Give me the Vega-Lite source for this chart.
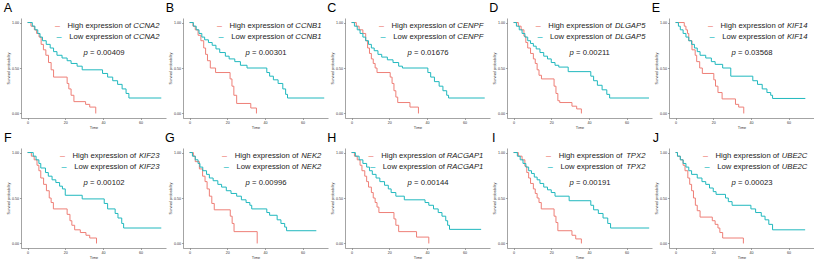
{
"$schema":"https://vega.github.io/schema/vega-lite/v6.json",
"background":"white",
"padding":{"left":3,"top":2,"right":0,"bottom":0},
"bounds":"flush",
"spacing":{"row":30,"column":17},
"columns":5,
"data":{"values":[
{"panel":"A","group":"High","time":0,"surv":1},{"panel":"A","group":"High","time":1.8,"surv":0.96},{"panel":"A","group":"High","time":3.6,"surv":0.92},{"panel":"A","group":"High","time":4.8,"surv":0.88},{"panel":"A","group":"High","time":6.1,"surv":0.84},{"panel":"A","group":"High","time":7.2,"surv":0.76},{"panel":"A","group":"High","time":8.4,"surv":0.7},{"panel":"A","group":"High","time":9.7,"surv":0.64},{"panel":"A","group":"High","time":11.1,"surv":0.56},{"panel":"A","group":"High","time":12.5,"surv":0.48},{"panel":"A","group":"High","time":13.8,"surv":0.4},{"panel":"A","group":"High","time":21,"surv":0.33},{"panel":"A","group":"High","time":21.9,"surv":0.27},{"panel":"A","group":"High","time":23.1,"surv":0.2},{"panel":"A","group":"High","time":24.6,"surv":0.13},{"panel":"A","group":"High","time":30.8,"surv":0.1},{"panel":"A","group":"High","time":33,"surv":0.07},{"panel":"A","group":"High","time":36.2,"surv":0},
{"panel":"A","group":"Low","time":0,"surv":1},{"panel":"A","group":"Low","time":2.5,"surv":0.96},{"panel":"A","group":"Low","time":3.9,"surv":0.92},{"panel":"A","group":"Low","time":5.4,"surv":0.88},{"panel":"A","group":"Low","time":6.6,"surv":0.84},{"panel":"A","group":"Low","time":7.9,"surv":0.8},{"panel":"A","group":"Low","time":9.9,"surv":0.76},{"panel":"A","group":"Low","time":12,"surv":0.72},{"panel":"A","group":"Low","time":13.8,"surv":0.68},{"panel":"A","group":"Low","time":15.6,"surv":0.64},{"panel":"A","group":"Low","time":18.3,"surv":0.61},{"panel":"A","group":"Low","time":21,"surv":0.58},{"panel":"A","group":"Low","time":23.1,"surv":0.55},{"panel":"A","group":"Low","time":26.3,"surv":0.52},{"panel":"A","group":"Low","time":29,"surv":0.48},{"panel":"A","group":"Low","time":39.8,"surv":0.44},{"panel":"A","group":"Low","time":42.5,"surv":0.4},{"panel":"A","group":"Low","time":45.2,"surv":0.36},{"panel":"A","group":"Low","time":47.8,"surv":0.32},{"panel":"A","group":"Low","time":50.2,"surv":0.27},{"panel":"A","group":"Low","time":52.3,"surv":0.22},{"panel":"A","group":"Low","time":53.8,"surv":0.17},{"panel":"A","group":"Low","time":71,"surv":0.17},
{"panel":"B","group":"High","time":0,"surv":1},{"panel":"B","group":"High","time":1.8,"surv":0.96},{"panel":"B","group":"High","time":3,"surv":0.92},{"panel":"B","group":"High","time":4.5,"surv":0.86},{"panel":"B","group":"High","time":6,"surv":0.8},{"panel":"B","group":"High","time":7.5,"surv":0.72},{"panel":"B","group":"High","time":8.5,"surv":0.65},{"panel":"B","group":"High","time":9.5,"surv":0.58},{"panel":"B","group":"High","time":11,"surv":0.5},{"panel":"B","group":"High","time":13.8,"surv":0.45},{"panel":"B","group":"High","time":21.5,"surv":0.38},{"panel":"B","group":"High","time":22.5,"surv":0.3},{"panel":"B","group":"High","time":23.5,"surv":0.2},{"panel":"B","group":"High","time":25,"surv":0.11},{"panel":"B","group":"High","time":32.5,"surv":0.06},{"panel":"B","group":"High","time":35.5,"surv":0},
{"panel":"B","group":"Low","time":0,"surv":1},{"panel":"B","group":"Low","time":2,"surv":0.96},{"panel":"B","group":"Low","time":3.5,"surv":0.92},{"panel":"B","group":"Low","time":5,"surv":0.88},{"panel":"B","group":"Low","time":6.5,"surv":0.84},{"panel":"B","group":"Low","time":8,"surv":0.81},{"panel":"B","group":"Low","time":10,"surv":0.78},{"panel":"B","group":"Low","time":12,"surv":0.75},{"panel":"B","group":"Low","time":14,"surv":0.71},{"panel":"B","group":"Low","time":16,"surv":0.67},{"panel":"B","group":"Low","time":19,"surv":0.63},{"panel":"B","group":"Low","time":21,"surv":0.6},{"panel":"B","group":"Low","time":24,"surv":0.57},{"panel":"B","group":"Low","time":27,"surv":0.53},{"panel":"B","group":"Low","time":30.5,"surv":0.5},{"panel":"B","group":"Low","time":41,"surv":0.45},{"panel":"B","group":"Low","time":42.5,"surv":0.41},{"panel":"B","group":"Low","time":44.5,"surv":0.37},{"panel":"B","group":"Low","time":47,"surv":0.33},{"panel":"B","group":"Low","time":49.5,"surv":0.27},{"panel":"B","group":"Low","time":51,"surv":0.21},{"panel":"B","group":"Low","time":52,"surv":0.17},{"panel":"B","group":"Low","time":71.5,"surv":0.17},
{"panel":"C","group":"High","time":0,"surv":1},{"panel":"C","group":"High","time":2.5,"surv":0.96},{"panel":"C","group":"High","time":4,"surv":0.92},{"panel":"C","group":"High","time":6,"surv":0.88},{"panel":"C","group":"High","time":7.5,"surv":0.8},{"panel":"C","group":"High","time":8.5,"surv":0.72},{"panel":"C","group":"High","time":9.5,"surv":0.66},{"panel":"C","group":"High","time":10.5,"surv":0.6},{"panel":"C","group":"High","time":11.5,"surv":0.55},{"panel":"C","group":"High","time":12.5,"surv":0.5},{"panel":"C","group":"High","time":13.5,"surv":0.45},{"panel":"C","group":"High","time":20.5,"surv":0.4},{"panel":"C","group":"High","time":21.5,"surv":0.33},{"panel":"C","group":"High","time":22.5,"surv":0.25},{"panel":"C","group":"High","time":23.5,"surv":0.18},{"panel":"C","group":"High","time":24.5,"surv":0.12},{"panel":"C","group":"High","time":31,"surv":0.07},{"panel":"C","group":"High","time":35.5,"surv":0},
{"panel":"C","group":"Low","time":0,"surv":1},{"panel":"C","group":"Low","time":1.5,"surv":0.96},{"panel":"C","group":"Low","time":3,"surv":0.92},{"panel":"C","group":"Low","time":4.5,"surv":0.88},{"panel":"C","group":"Low","time":6,"surv":0.84},{"panel":"C","group":"Low","time":7.5,"surv":0.8},{"panel":"C","group":"Low","time":9,"surv":0.76},{"panel":"C","group":"Low","time":10.5,"surv":0.72},{"panel":"C","group":"Low","time":12,"surv":0.69},{"panel":"C","group":"Low","time":14,"surv":0.65},{"panel":"C","group":"Low","time":16,"surv":0.62},{"panel":"C","group":"Low","time":19,"surv":0.59},{"panel":"C","group":"Low","time":22,"surv":0.56},{"panel":"C","group":"Low","time":25,"surv":0.52},{"panel":"C","group":"Low","time":27,"surv":0.5},{"panel":"C","group":"Low","time":40.5,"surv":0.45},{"panel":"C","group":"Low","time":42,"surv":0.4},{"panel":"C","group":"Low","time":44,"surv":0.35},{"panel":"C","group":"Low","time":46.5,"surv":0.3},{"panel":"C","group":"Low","time":48.5,"surv":0.25},{"panel":"C","group":"Low","time":50.5,"surv":0.2},{"panel":"C","group":"Low","time":51.5,"surv":0.17},{"panel":"C","group":"Low","time":70.7,"surv":0.17},
{"panel":"D","group":"High","time":0,"surv":1},{"panel":"D","group":"High","time":2.5,"surv":0.96},{"panel":"D","group":"High","time":4,"surv":0.92},{"panel":"D","group":"High","time":5.5,"surv":0.85},{"panel":"D","group":"High","time":6.5,"surv":0.78},{"panel":"D","group":"High","time":7.5,"surv":0.72},{"panel":"D","group":"High","time":9,"surv":0.66},{"panel":"D","group":"High","time":10.5,"surv":0.6},{"panel":"D","group":"High","time":11.5,"surv":0.55},{"panel":"D","group":"High","time":12.5,"surv":0.48},{"panel":"D","group":"High","time":13.5,"surv":0.42},{"panel":"D","group":"High","time":14.8,"surv":0.38},{"panel":"D","group":"High","time":21.5,"surv":0.3},{"panel":"D","group":"High","time":22.5,"surv":0.22},{"panel":"D","group":"High","time":23.5,"surv":0.14},{"panel":"D","group":"High","time":24.5,"surv":0.12},{"panel":"D","group":"High","time":31,"surv":0.08},{"panel":"D","group":"High","time":33.5,"surv":0.05},{"panel":"D","group":"High","time":36,"surv":0},
{"panel":"D","group":"Low","time":0,"surv":1},{"panel":"D","group":"Low","time":1.5,"surv":0.96},{"panel":"D","group":"Low","time":3,"surv":0.92},{"panel":"D","group":"Low","time":4.5,"surv":0.88},{"panel":"D","group":"Low","time":6,"surv":0.84},{"panel":"D","group":"Low","time":7.5,"surv":0.8},{"panel":"D","group":"Low","time":9,"surv":0.77},{"panel":"D","group":"Low","time":10.5,"surv":0.74},{"panel":"D","group":"Low","time":12,"surv":0.71},{"panel":"D","group":"Low","time":14,"surv":0.67},{"panel":"D","group":"Low","time":16,"surv":0.63},{"panel":"D","group":"Low","time":18,"surv":0.6},{"panel":"D","group":"Low","time":20,"surv":0.56},{"panel":"D","group":"Low","time":22,"surv":0.53},{"panel":"D","group":"Low","time":24,"surv":0.51},{"panel":"D","group":"Low","time":29,"surv":0.46},{"panel":"D","group":"Low","time":41,"surv":0.41},{"panel":"D","group":"Low","time":42.5,"surv":0.36},{"panel":"D","group":"Low","time":44.5,"surv":0.31},{"panel":"D","group":"Low","time":47,"surv":0.26},{"panel":"D","group":"Low","time":49.5,"surv":0.21},{"panel":"D","group":"Low","time":51,"surv":0.17},{"panel":"D","group":"Low","time":71.9,"surv":0.17},
{"panel":"E","group":"High","time":0,"surv":1},{"panel":"E","group":"High","time":4.6,"surv":0.96},{"panel":"E","group":"High","time":5.5,"surv":0.92},{"panel":"E","group":"High","time":6.3,"surv":0.88},{"panel":"E","group":"High","time":7,"surv":0.8},{"panel":"E","group":"High","time":8.7,"surv":0.7},{"panel":"E","group":"High","time":10.4,"surv":0.64},{"panel":"E","group":"High","time":11.2,"surv":0.57},{"panel":"E","group":"High","time":12.8,"surv":0.5},{"panel":"E","group":"High","time":14.2,"surv":0.44},{"panel":"E","group":"High","time":20.3,"surv":0.37},{"panel":"E","group":"High","time":21.2,"surv":0.3},{"panel":"E","group":"High","time":22.5,"surv":0.23},{"panel":"E","group":"High","time":24.7,"surv":0.16},{"panel":"E","group":"High","time":31.8,"surv":0.1},{"panel":"E","group":"High","time":33.5,"surv":0.07},{"panel":"E","group":"High","time":36.2,"surv":0},
{"panel":"E","group":"Low","time":0,"surv":1},{"panel":"E","group":"Low","time":1.5,"surv":0.96},{"panel":"E","group":"Low","time":2.5,"surv":0.92},{"panel":"E","group":"Low","time":4,"surv":0.88},{"panel":"E","group":"Low","time":5.5,"surv":0.84},{"panel":"E","group":"Low","time":7,"surv":0.8},{"panel":"E","group":"Low","time":8.5,"surv":0.76},{"panel":"E","group":"Low","time":10,"surv":0.72},{"panel":"E","group":"Low","time":11.5,"surv":0.68},{"panel":"E","group":"Low","time":13,"surv":0.64},{"panel":"E","group":"Low","time":16,"surv":0.61},{"panel":"E","group":"Low","time":19,"surv":0.57},{"panel":"E","group":"Low","time":21,"surv":0.54},{"panel":"E","group":"Low","time":25,"surv":0.5},{"panel":"E","group":"Low","time":29.3,"surv":0.41},{"panel":"E","group":"Low","time":41,"surv":0.36},{"panel":"E","group":"Low","time":43.5,"surv":0.32},{"panel":"E","group":"Low","time":46,"surv":0.27},{"panel":"E","group":"Low","time":48.5,"surv":0.23},{"panel":"E","group":"Low","time":50.5,"surv":0.2},{"panel":"E","group":"Low","time":51.5,"surv":0.165},{"panel":"E","group":"Low","time":68.9,"surv":0.165},
{"panel":"F","group":"High","time":0,"surv":1},{"panel":"F","group":"High","time":2,"surv":0.96},{"panel":"F","group":"High","time":3.5,"surv":0.92},{"panel":"F","group":"High","time":5,"surv":0.86},{"panel":"F","group":"High","time":6,"surv":0.8},{"panel":"F","group":"High","time":7,"surv":0.72},{"panel":"F","group":"High","time":8.5,"surv":0.65},{"panel":"F","group":"High","time":10,"surv":0.58},{"panel":"F","group":"High","time":11.5,"surv":0.5},{"panel":"F","group":"High","time":12.5,"surv":0.45},{"panel":"F","group":"High","time":13.7,"surv":0.38},{"panel":"F","group":"High","time":21,"surv":0.32},{"panel":"F","group":"High","time":22.5,"surv":0.25},{"panel":"F","group":"High","time":23.5,"surv":0.2},{"panel":"F","group":"High","time":25,"surv":0.15},{"panel":"F","group":"High","time":28,"surv":0.12},{"panel":"F","group":"High","time":31,"surv":0.09},{"panel":"F","group":"High","time":33,"surv":0.06},{"panel":"F","group":"High","time":36.6,"surv":0},
{"panel":"F","group":"Low","time":0,"surv":1},{"panel":"F","group":"Low","time":3,"surv":0.96},{"panel":"F","group":"Low","time":4.5,"surv":0.92},{"panel":"F","group":"Low","time":6,"surv":0.88},{"panel":"F","group":"Low","time":7,"surv":0.83},{"panel":"F","group":"Low","time":9.5,"surv":0.78},{"panel":"F","group":"Low","time":11,"surv":0.74},{"panel":"F","group":"Low","time":13,"surv":0.7},{"panel":"F","group":"Low","time":15,"surv":0.67},{"panel":"F","group":"Low","time":17,"surv":0.63},{"panel":"F","group":"Low","time":18.5,"surv":0.6},{"panel":"F","group":"Low","time":20,"surv":0.53},{"panel":"F","group":"Low","time":29,"surv":0.49},{"panel":"F","group":"Low","time":40.7,"surv":0.44},{"panel":"F","group":"Low","time":42.5,"surv":0.38},{"panel":"F","group":"Low","time":46.5,"surv":0.33},{"panel":"F","group":"Low","time":48,"surv":0.28},{"panel":"F","group":"Low","time":50,"surv":0.22},{"panel":"F","group":"Low","time":51,"surv":0.17},{"panel":"F","group":"Low","time":71,"surv":0.17},
{"panel":"G","group":"High","time":0,"surv":1},{"panel":"G","group":"High","time":2,"surv":0.96},{"panel":"G","group":"High","time":3,"surv":0.9},{"panel":"G","group":"High","time":5.2,"surv":0.82},{"panel":"G","group":"High","time":6.9,"surv":0.74},{"panel":"G","group":"High","time":8.2,"surv":0.68},{"panel":"G","group":"High","time":9.3,"surv":0.6},{"panel":"G","group":"High","time":10.5,"surv":0.52},{"panel":"G","group":"High","time":11.8,"surv":0.44},{"panel":"G","group":"High","time":13.1,"surv":0.37},{"panel":"G","group":"High","time":21.6,"surv":0.3},{"panel":"G","group":"High","time":22.6,"surv":0.22},{"panel":"G","group":"High","time":23.6,"surv":0.13},{"panel":"G","group":"High","time":35.9,"surv":0},
{"panel":"G","group":"Low","time":0,"surv":1},{"panel":"G","group":"Low","time":1.5,"surv":0.96},{"panel":"G","group":"Low","time":3,"surv":0.92},{"panel":"G","group":"Low","time":4.5,"surv":0.88},{"panel":"G","group":"Low","time":5.5,"surv":0.84},{"panel":"G","group":"Low","time":7,"surv":0.8},{"panel":"G","group":"Low","time":9,"surv":0.76},{"panel":"G","group":"Low","time":10.5,"surv":0.72},{"panel":"G","group":"Low","time":12.5,"surv":0.69},{"panel":"G","group":"Low","time":15,"surv":0.65},{"panel":"G","group":"Low","time":17,"surv":0.62},{"panel":"G","group":"Low","time":19.5,"surv":0.58},{"panel":"G","group":"Low","time":22,"surv":0.55},{"panel":"G","group":"Low","time":25,"surv":0.52},{"panel":"G","group":"Low","time":27.5,"surv":0.48},{"panel":"G","group":"Low","time":30,"surv":0.45},{"panel":"G","group":"Low","time":32,"surv":0.42},{"panel":"G","group":"Low","time":33,"surv":0.38},{"panel":"G","group":"Low","time":41,"surv":0.34},{"panel":"G","group":"Low","time":42.5,"surv":0.31},{"panel":"G","group":"Low","time":46.5,"surv":0.26},{"panel":"G","group":"Low","time":48.5,"surv":0.22},{"panel":"G","group":"Low","time":50.5,"surv":0.18},{"panel":"G","group":"Low","time":51.5,"surv":0.14},{"panel":"G","group":"Low","time":67.3,"surv":0.14},
{"panel":"H","group":"High","time":0,"surv":1},{"panel":"H","group":"High","time":1.5,"surv":0.96},{"panel":"H","group":"High","time":3,"surv":0.92},{"panel":"H","group":"High","time":4.5,"surv":0.86},{"panel":"H","group":"High","time":5.5,"surv":0.8},{"panel":"H","group":"High","time":7,"surv":0.74},{"panel":"H","group":"High","time":8,"surv":0.68},{"panel":"H","group":"High","time":9,"surv":0.62},{"panel":"H","group":"High","time":10.5,"surv":0.56},{"panel":"H","group":"High","time":11.5,"surv":0.5},{"panel":"H","group":"High","time":12.5,"surv":0.45},{"panel":"H","group":"High","time":13.5,"surv":0.4},{"panel":"H","group":"High","time":14.5,"surv":0.34},{"panel":"H","group":"High","time":22.5,"surv":0.27},{"panel":"H","group":"High","time":23.5,"surv":0.2},{"panel":"H","group":"High","time":25,"surv":0.13},{"panel":"H","group":"High","time":34.5,"surv":0.07},{"panel":"H","group":"High","time":41,"surv":0},
{"panel":"H","group":"Low","time":0,"surv":1},{"panel":"H","group":"Low","time":2,"surv":0.96},{"panel":"H","group":"Low","time":4,"surv":0.92},{"panel":"H","group":"Low","time":6,"surv":0.88},{"panel":"H","group":"Low","time":8,"surv":0.84},{"panel":"H","group":"Low","time":9.5,"surv":0.8},{"panel":"H","group":"Low","time":11,"surv":0.76},{"panel":"H","group":"Low","time":13,"surv":0.72},{"panel":"H","group":"Low","time":15,"surv":0.68},{"panel":"H","group":"Low","time":17.5,"surv":0.64},{"panel":"H","group":"Low","time":19.5,"surv":0.6},{"panel":"H","group":"Low","time":21,"surv":0.56},{"panel":"H","group":"Low","time":23.5,"surv":0.52},{"panel":"H","group":"Low","time":28,"surv":0.48},{"panel":"H","group":"Low","time":39,"surv":0.45},{"panel":"H","group":"Low","time":41,"surv":0.42},{"panel":"H","group":"Low","time":43.5,"surv":0.38},{"panel":"H","group":"Low","time":46,"surv":0.34},{"panel":"H","group":"Low","time":48,"surv":0.3},{"panel":"H","group":"Low","time":50,"surv":0.25},{"panel":"H","group":"Low","time":51,"surv":0.2},{"panel":"H","group":"Low","time":52,"surv":0.155},{"panel":"H","group":"Low","time":68.8,"surv":0.155},
{"panel":"I","group":"High","time":0,"surv":1},{"panel":"I","group":"High","time":2.5,"surv":0.96},{"panel":"I","group":"High","time":4.5,"surv":0.92},{"panel":"I","group":"High","time":6,"surv":0.85},{"panel":"I","group":"High","time":7,"surv":0.78},{"panel":"I","group":"High","time":8,"surv":0.72},{"panel":"I","group":"High","time":9,"surv":0.66},{"panel":"I","group":"High","time":10.5,"surv":0.6},{"panel":"I","group":"High","time":11.5,"surv":0.55},{"panel":"I","group":"High","time":12.5,"surv":0.5},{"panel":"I","group":"High","time":13.5,"surv":0.45},{"panel":"I","group":"High","time":14.7,"surv":0.38},{"panel":"I","group":"High","time":21.5,"surv":0.3},{"panel":"I","group":"High","time":22.5,"surv":0.23},{"panel":"I","group":"High","time":23.5,"surv":0.14},{"panel":"I","group":"High","time":31,"surv":0.09},{"panel":"I","group":"High","time":33,"surv":0.05},{"panel":"I","group":"High","time":36,"surv":0},
{"panel":"I","group":"Low","time":0,"surv":1},{"panel":"I","group":"Low","time":2,"surv":0.96},{"panel":"I","group":"Low","time":3.5,"surv":0.92},{"panel":"I","group":"Low","time":5,"surv":0.88},{"panel":"I","group":"Low","time":6.5,"surv":0.84},{"panel":"I","group":"Low","time":8,"surv":0.8},{"panel":"I","group":"Low","time":9.5,"surv":0.77},{"panel":"I","group":"Low","time":11,"surv":0.73},{"panel":"I","group":"Low","time":12.5,"surv":0.7},{"panel":"I","group":"Low","time":14,"surv":0.66},{"panel":"I","group":"Low","time":16,"surv":0.62},{"panel":"I","group":"Low","time":18,"surv":0.59},{"panel":"I","group":"Low","time":20,"surv":0.56},{"panel":"I","group":"Low","time":22,"surv":0.52},{"panel":"I","group":"Low","time":29.5,"surv":0.47},{"panel":"I","group":"Low","time":41,"surv":0.42},{"panel":"I","group":"Low","time":42.5,"surv":0.37},{"panel":"I","group":"Low","time":45,"surv":0.33},{"panel":"I","group":"Low","time":47.5,"surv":0.28},{"panel":"I","group":"Low","time":50,"surv":0.22},{"panel":"I","group":"Low","time":51.5,"surv":0.17},{"panel":"I","group":"Low","time":72,"surv":0.17},
{"panel":"J","group":"High","time":0,"surv":1},{"panel":"J","group":"High","time":1,"surv":0.96},{"panel":"J","group":"High","time":2.5,"surv":0.92},{"panel":"J","group":"High","time":4,"surv":0.86},{"panel":"J","group":"High","time":5,"surv":0.8},{"panel":"J","group":"High","time":6.5,"surv":0.72},{"panel":"J","group":"High","time":7.5,"surv":0.65},{"panel":"J","group":"High","time":8.5,"surv":0.58},{"panel":"J","group":"High","time":9.5,"surv":0.5},{"panel":"J","group":"High","time":10.5,"surv":0.42},{"panel":"J","group":"High","time":11.5,"surv":0.36},{"panel":"J","group":"High","time":13,"surv":0.29},{"panel":"J","group":"High","time":19.5,"surv":0.25},{"panel":"J","group":"High","time":21,"surv":0.21},{"panel":"J","group":"High","time":22.5,"surv":0.17},{"panel":"J","group":"High","time":23.5,"surv":0.12},{"panel":"J","group":"High","time":25,"surv":0.06},{"panel":"J","group":"High","time":36,"surv":0},
{"panel":"J","group":"Low","time":0,"surv":1},{"panel":"J","group":"Low","time":1,"surv":0.96},{"panel":"J","group":"Low","time":2.5,"surv":0.92},{"panel":"J","group":"Low","time":4,"surv":0.88},{"panel":"J","group":"Low","time":5.5,"surv":0.84},{"panel":"J","group":"Low","time":7,"surv":0.8},{"panel":"J","group":"Low","time":8.5,"surv":0.76},{"panel":"J","group":"Low","time":11.5,"surv":0.72},{"panel":"J","group":"Low","time":14,"surv":0.68},{"panel":"J","group":"Low","time":16,"surv":0.65},{"panel":"J","group":"Low","time":18,"surv":0.61},{"panel":"J","group":"Low","time":20,"surv":0.57},{"panel":"J","group":"Low","time":21.5,"surv":0.54},{"panel":"J","group":"Low","time":26.5,"surv":0.5},{"panel":"J","group":"Low","time":28,"surv":0.46},{"panel":"J","group":"Low","time":30,"surv":0.42},{"panel":"J","group":"Low","time":40,"surv":0.38},{"panel":"J","group":"Low","time":42.5,"surv":0.34},{"panel":"J","group":"Low","time":45.5,"surv":0.3},{"panel":"J","group":"Low","time":47.5,"surv":0.26},{"panel":"J","group":"Low","time":49.5,"surv":0.21},{"panel":"J","group":"Low","time":51.5,"surv":0.15},{"panel":"J","group":"Low","time":68.8,"surv":0.15},
{"panel":"A","group":"High","pre":"High expression of","gene":"CCNA2"},{"panel":"A","group":"Low","pre":"Low expression of","gene":"CCNA2"},{"panel":"A","pv":"= 0.00409"},
{"panel":"B","group":"High","pre":"High expression of","gene":"CCNB1"},{"panel":"B","group":"Low","pre":"Low expression of","gene":"CCNB1"},{"panel":"B","pv":"= 0.00301"},
{"panel":"C","group":"High","pre":"High expression of","gene":"CENPF"},{"panel":"C","group":"Low","pre":"Low expression of","gene":"CENPF"},{"panel":"C","pv":"= 0.01676"},
{"panel":"D","group":"High","pre":"High expression of","gene":"DLGAP5"},{"panel":"D","group":"Low","pre":"Low expression of","gene":"DLGAP5"},{"panel":"D","pv":"= 0.00211"},
{"panel":"E","group":"High","pre":"High expression of","gene":"KIF14"},{"panel":"E","group":"Low","pre":"Low expression of","gene":"KIF14"},{"panel":"E","pv":"= 0.03568"},
{"panel":"F","group":"High","pre":"High expression of","gene":"KIF23"},{"panel":"F","group":"Low","pre":"Low expression of","gene":"KIF23"},{"panel":"F","pv":"= 0.00102"},
{"panel":"G","group":"High","pre":"High expression of","gene":"NEK2"},{"panel":"G","group":"Low","pre":"Low expression of","gene":"NEK2"},{"panel":"G","pv":"= 0.00996"},
{"panel":"H","group":"High","pre":"High expression of","gene":"RACGAP1"},{"panel":"H","group":"Low","pre":"Low expression of","gene":"RACGAP1"},{"panel":"H","pv":"= 0.00144"},
{"panel":"I","group":"High","pre":"High expression of","gene":"TPX2"},{"panel":"I","group":"Low","pre":"Low expression of","gene":"TPX2"},{"panel":"I","pv":"= 0.00191"},
{"panel":"J","group":"High","pre":"High expression of","gene":"UBE2C"},{"panel":"J","group":"Low","pre":"Low expression of","gene":"UBE2C"},{"panel":"J","pv":"= 0.00023"}
]},
"facet":{"field":"panel","type":"nominal","title":null,"header":{"labels":false,"title":null,"labelExpr":"''","labelFontSize":0,"labelPadding":0}},
"resolve":{"axis":{"x":"independent","y":"independent"}},
"spec":{
"width":145,"height":100,
"layer":[
{"transform":[{"filter":"isValid(datum.surv)"}],
 "mark":{"type":"line","interpolate":"step-after","strokeWidth":1},
 "encoding":{
  "x":{"field":"time","type":"quantitative","scale":{"domain":[-3.5,73.5],"nice":false,"zero":false},"axis":{"title":"Time","values":[0,20,40,60],"format":"d"}},
  "y":{"field":"surv","type":"quantitative","scale":{"domain":[-0.05,1.05],"nice":false,"zero":false},"axis":{"title":"Survival probability","values":[0,0.25,0.5,0.75,1],"format":".2f"}},
  "color":{"field":"group","type":"nominal","scale":{"domain":["High","Low"],"range":["#EE7F77","#20B8BE"]},"legend":null}}},
{"transform":[{"filter":"isValid(datum.gene)"}],
 "mark":{"type":"text","text":"–","align":"center","baseline":"middle","fontSize":9,
   "dx":{"expr":"-(5.2*length(datum.gene) - (indexof(datum.gene,'I')>=0?5:0) + 2.2 + (datum.group=='High'?63.8:62.1) + 10)"},
   "dy":{"expr":"datum.group=='High'?0:11"}},
 "encoding":{"x":{"datum":70},"y":{"datum":0.96},"color":{"field":"group","type":"nominal","legend":null}}},
{"transform":[{"filter":"isValid(datum.gene)"}],
 "mark":{"type":"text","align":"right","baseline":"middle","fontSize":7.7,"color":"#222",
   "dx":{"expr":"-(5.2*length(datum.gene) - (indexof(datum.gene,'I')>=0?5:0) + 2.2)"},
   "dy":{"expr":"datum.group=='High'?0:11"}},
 "encoding":{"x":{"datum":70},"y":{"datum":0.96},"text":{"field":"pre"}}},
{"transform":[{"filter":"isValid(datum.gene)"}],
 "mark":{"type":"text","align":"right","baseline":"middle","fontSize":7.7,"fontStyle":"italic","color":"#222",
   "dy":{"expr":"datum.group=='High'?0:11"}},
 "encoding":{"x":{"datum":70},"y":{"datum":0.96},"text":{"field":"gene"}}},
{"transform":[{"filter":"isValid(datum.pv)"}],
 "mark":{"type":"text","align":"right","baseline":"middle","fontSize":7.7,"fontStyle":"italic","color":"#222","text":"p"},
 "encoding":{"x":{"datum":32},"y":{"datum":0.67}}},
{"transform":[{"filter":"isValid(datum.pv)"}],
 "mark":{"type":"text","align":"left","baseline":"middle","fontSize":7.7,"color":"#222","dx":2.2},
 "encoding":{"x":{"datum":32},"y":{"datum":0.67},"text":{"field":"pv"}}},
{"transform":[{"filter":"isValid(datum.pv)"}],
 "mark":{"type":"text","align":"center","baseline":"middle","fontSize":12.5,"color":"black"},
 "encoding":{"x":{"datum":-10.5},"y":{"datum":1.16},"text":{"field":"panel"}}}
]},
"config":{"view":{"stroke":null},"font":"Liberation Sans",
 "header":{"labels":false,"title":null},
 "headerFacet":{"labels":false,"title":null},
 "axis":{"grid":false,"domainColor":"#666","domainWidth":0.6,"tickColor":"#666","tickWidth":0.6,"tickSize":1.5,"labelFontSize":3.6,"labelColor":"#333","labelPadding":1,"titleFontSize":3.8,"titleFontWeight":"normal","titleColor":"#333","titlePadding":1.5}}
}
